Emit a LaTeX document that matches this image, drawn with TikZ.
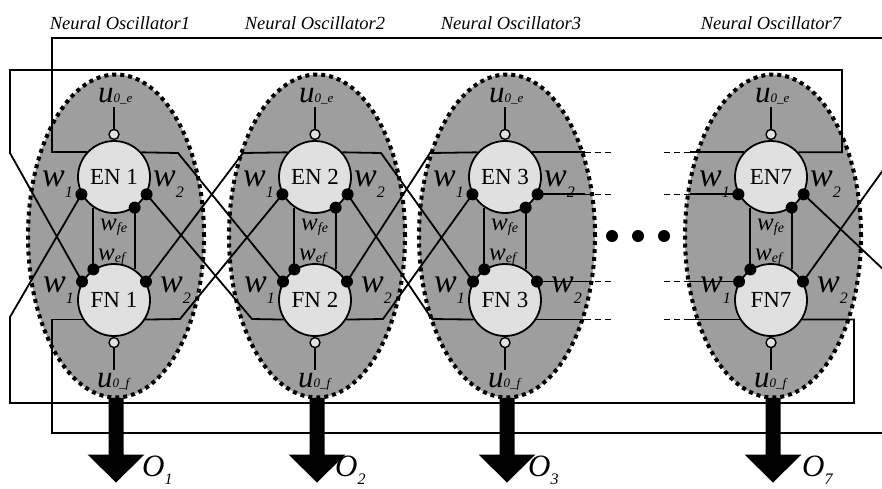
\documentclass[tikz,border=0pt]{standalone}
\usepackage{fontspec}
\setmainfont{Liberation Serif}
\usetikzlibrary{shapes.geometric}

% weight and input labels
\newcommand{\wbig}[1]{{\fontsize{34}{34}\selectfont\itshape w}\raisebox{-11pt}{\fontsize{16}{16}\selectfont\itshape #1}}
\newcommand{\wsmall}[1]{{\fontsize{25}{25}\selectfont\itshape w}\raisebox{-2pt}{\fontsize{14}{14}\selectfont\itshape #1}}
\newcommand{\uin}[1]{{\fontsize{31}{31}\selectfont\itshape u}{\fontsize{13}{13}\selectfont\itshape 0\_#1}}
\newcommand{\outlbl}[1]{{\fontsize{31}{31}\selectfont\itshape O}\raisebox{-8pt}{\fontsize{16}{16}\selectfont\itshape #1}}

\begin{document}
\begin{tikzpicture}[x=1pt,y=-1pt,
  osc/.style={ellipse,draw=black,fill=black!38,line width=4pt,dash pattern=on 4pt off 4pt,
              minimum width=176pt,minimum height=323pt,inner sep=0pt},
  neuron/.style={circle,draw=black,line width=1.8pt,fill=black!12,minimum size=72pt,
                 inner sep=0pt,font=\fontsize{23}{23}\selectfont},
  port/.style={circle,draw=black,line width=1.4pt,fill=black!12,minimum size=10pt,inner sep=0pt},
  wire/.style={line width=1.8pt},
  dashwire/.style={line width=1.6pt,dash pattern=on 6pt off 4pt},
  lbl/.style={inner sep=0pt,anchor=base west},
  title/.style={inner sep=0pt,font=\fontsize{18.5}{18.5}\selectfont\itshape},
]
\useasboundingbox (0,0) rectangle (882,488);

% oscillator bodies, neurons and their external inputs
\foreach \x/\n/\en/\fn in {114/1/EN 1/FN 1,315/2/EN 2/FN 2,505/3/EN 3/FN 3,771/7/EN7/FN7}{
  \node[osc] (osc\n) at (\x+2,236) {};
  \node[neuron] (EN\n) at (\x,177) {\en};
  \node[neuron] (FN\n) at (\x,300) {\fn};
  \node[port,anchor=south] (ue\n) at (EN\n.north) {};
  \node[port,anchor=north] (uf\n) at (FN\n.south) {};
  \draw[wire] (ue\n.north) -- ++(0,-22);
  \draw[wire] (uf\n.south) -- ++(0,22);
  % mutual inhibition between extensor and flexor
  \draw[wire] (EN\n.236) -- (FN\n.124);
  \draw[wire] (EN\n.304) -- (FN\n.56);
}

% bends of the ring connections
\coordinate (tl) at (52,38);   \coordinate (tr) at (890,38);
\coordinate (bl) at (52,433);  \coordinate (br) at (890,433);
\coordinate (ml) at (10,70);   \coordinate (mr) at (842,70);
\coordinate (nl) at (10,403);  \coordinate (nr) at (854,403);
\coordinate (mlk) at (10,153); \coordinate (nlk) at (10,317);

\draw[wire] (EN1.138) -| (tl) -- (tr);
\draw[wire] (FN1.212) -| (bl) -- (br);
\draw[wire] (EN7.42) -| (mr) -- (ml) -- (mlk) -- (FN1.150);
\draw[wire] (FN7.-32) -| (nr) -- (nl) -- (nlk) -- (EN1.208);
\coordinate (x7a) at (886,272); \coordinate (x7b) at (886,166);
\draw[wire] (EN7.332) -- (x7a);
\draw[wire] (FN7.30) -- (x7b);

% crossed links between neighbouring oscillators
\coordinate (r1e) at (178,153); \coordinate (r1f) at (180,319);
\coordinate (l2e) at (243,153); \coordinate (l2f) at (252,319);
\coordinate (r2e) at (381,153); \coordinate (r2f) at (383,319);
\coordinate (l3e) at (430,153); \coordinate (l3f) at (432,319);
\draw[wire] (EN1.42) -- (r1e) -- (FN2.150);
\draw[wire] (FN1.-32) -- (r1f) -- (EN2.208);
\draw[wire] (EN2.138) -- (l2e) -- (FN1.30);
\draw[wire] (FN2.212) -- (l2f) -- (EN1.332);
\draw[wire] (EN2.42) -- (r2e) -- (FN3.150);
\draw[wire] (FN2.-32) -- (r2f) -- (EN3.208);
\draw[wire] (EN3.138) -- (l3e) -- (FN2.30);
\draw[wire] (FN3.212) -- (l3f) -- (EN2.332);

% links continued towards the omitted oscillators
\coordinate (s3) at (585,0); \coordinate (e3) at (612,0);
\coordinate (s7) at (690,0); \coordinate (e7) at (663,0);
\foreach \p in {EN3.42,EN3.332,FN3.30,FN3.-32}{
  \draw[wire] (\p) -- (\p -| s3);
  \draw[dashwire] (\p -| s3) -- (\p -| e3);
}
\foreach \p in {EN7.138,EN7.208,FN7.150,FN7.212}{
  \draw[wire] (\p) -- (\p -| s7);
  \draw[dashwire] (\p -| s7) -- (\p -| e7);
}
\foreach \cx in {612,638,664}{
  \fill (\cx,236) circle[radius=6pt];
}

% synapse dots
\foreach \n in {1,2,3,7}{
  \foreach \a in {208,332,304}{ \fill (EN\n.\a) circle[radius=6pt]; }
  \foreach \a in {150,30,124}{ \fill (FN\n.\a) circle[radius=6pt]; }
}

% labels
\foreach \x/\n/\ox in {114/1/28,315/2/20,505/3/23,771/7/31}{
  \node[lbl] at (\x-72,186) {\wbig{1}};
  \node[lbl] at (\x+39,186) {\wbig{2}};
  \node[lbl] at (\x-71,292) {\wbig{1}};
  \node[lbl] at (\x+46,292) {\wbig{2}};
  \node[lbl] at (\x-14,230) {\wsmall{fe}};
  \node[lbl] at (\x-16,260) {\wsmall{ef}};
  \node[lbl] at (\x-16,102) {\uin{e}};
  \node[lbl] at (\x-17,387) {\uin{f}};
  \node[lbl] at (\x+\ox,476) {\outlbl{\n}};
  % output arrow
  \fill (osc\n.south) ++(-7.5,-2) -- ++(15,0) -- ++(0,57) -- ++(21,0)
        -- ++(-28.5,28) -- ++(-28.5,-28) -- ++(21,0) -- cycle;
}

\node[title] at (120,23) {Neural Oscillator1};
\node[title] at (315,23) {Neural Oscillator2};
\node[title] at (511,23) {Neural Oscillator3};
\node[title] at (771,23) {Neural Oscillator7};
\end{tikzpicture}
\end{document}
